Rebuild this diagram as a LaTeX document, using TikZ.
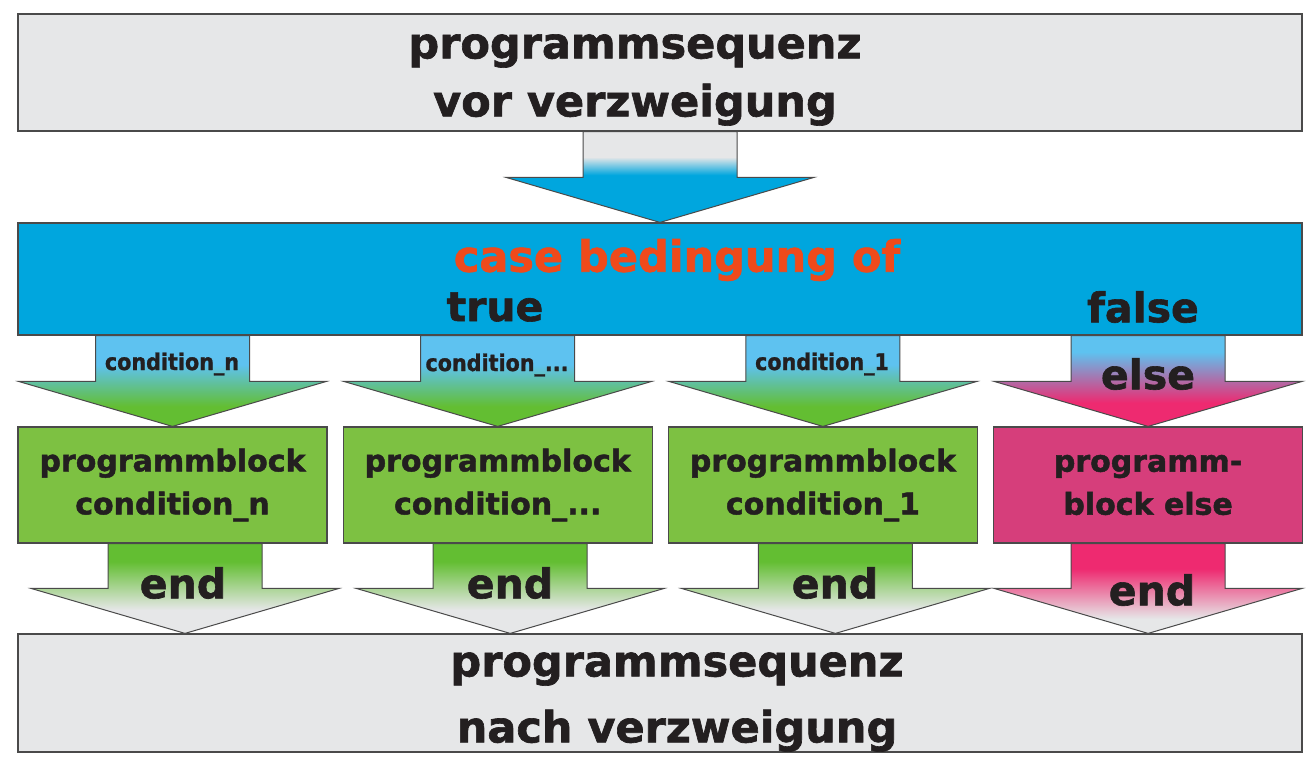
\documentclass[tikz,border=0pt]{standalone}
\usepackage{fontspec}
\setmainfont{DejaVu Sans}[BoldFeatures={FakeBold=1.5}]
\newfontfamily\condfont{DejaVu Sans Condensed}[BoldFeatures={FakeBold=1.2}]
\usetikzlibrary{calc, positioning}
\definecolor{seqgray}{HTML}{E6E7E8}
\definecolor{caseblue}{HTML}{00A6DE}
\definecolor{lightblue}{HTML}{5EC2F0}
\definecolor{arrowgreen}{HTML}{63BE32}
\definecolor{blockgreen}{HTML}{7DC142}
\definecolor{arrowpink}{HTML}{EE2A70}
\definecolor{blockpink}{HTML}{D63E7B}
\definecolor{caseorange}{HTML}{EF4A1B}
\definecolor{textblack}{HTML}{231F20}
\definecolor{edgegray}{HTML}{4A4A4A}
\pgfdeclareverticalshading{graytoblue}{100bp}{color(0bp)=(caseblue); color(51bp)=(caseblue); color(61bp)=(seqgray); color(100bp)=(seqgray)}
\pgfdeclareverticalshading{bluetogreen}{100bp}{color(0bp)=(arrowgreen); color(36bp)=(arrowgreen); color(59bp)=(lightblue); color(100bp)=(lightblue)}
\pgfdeclareverticalshading{bluetopink}{100bp}{color(0bp)=(arrowpink); color(38bp)=(arrowpink); color(66bp)=(lightblue); color(100bp)=(lightblue)}
\pgfdeclareverticalshading{greentogray}{100bp}{color(0bp)=(seqgray); color(38bp)=(seqgray); color(65bp)=(arrowgreen); color(100bp)=(arrowgreen)}
\pgfdeclareverticalshading{pinktogray}{100bp}{color(0bp)=(seqgray); color(33bp)=(seqgray); color(61bp)=(arrowpink); color(100bp)=(arrowpink)}
\tikzset{
	seqbox/.style={rectangle, draw=edgegray, line width=1.2pt, fill=seqgray, minimum width=1284pt},
	casebox/.style={seqbox, fill=caseblue, minimum height=112pt},
	block/.style={rectangle, draw=edgegray, line width=1.2pt, minimum width=309pt, minimum height=116pt, align=center, text=textblack, font=\fontsize{30}{43}\selectfont\bfseries},
	trueblock/.style={block, fill=blockgreen},
	elseblock/.style={block, fill=blockpink},
	bigtext/.style={align=center, text=textblack, font=\fontsize{43}{58}\selectfont\bfseries},
	midtext/.style={text=textblack, font=\fontsize{41}{48}\selectfont\bfseries},
	condtext/.style={text=textblack, font=\fontsize{23}{28}\condfont\bfseries},
}
% block arrow from #1 (middle of the shaft top) to #2 (tip)
\newcommand{\blockarrow}[3]{%
	\shade[shading=#3, draw=edgegray, line width=1pt]
		($(#1)+(-77,0)$) -- ($(#1)+(77,0)$) -- ($(#2)+(77,-45)$) -- ($(#2)+(154,-45)$)
		-- (#2) -- ($(#2)+(-154,-45)$) -- ($(#2)+(-77,-45)$) -- cycle;}

\begin{document}
\begin{tikzpicture}[x=1pt, y=-1pt]
	\useasboundingbox (0,0) rectangle (1314,768);
	% the boxes
	\node[seqbox, minimum height=117pt] (pre) at (660,72.5) {};
	\node[casebox] (case) at (660,279) {};
	\node[trueblock] (blkn) at (172.5,485) {programmblock\\condition\_n};
	\node[trueblock, right=15pt of blkn] (blkdots) {programmblock\\condition\_...};
	\node[trueblock, right=15pt of blkdots] (blkone) {programmblock\\condition\_1};
	\node[elseblock, right=15pt of blkone] (blkelse) {programm-\\block else};
	\node[seqbox, minimum height=118pt] (post) at (660,693) {};
	% the arrows
	\coordinate (endn) at ($(blkn.south)+(12.5,0)$);
	\coordinate (enddots) at ($(blkdots.south)+(12.5,0)$);
	\coordinate (endone) at ($(blkone.south)+(12.5,0)$);
	\blockarrow{pre.south}{case.north}{graytoblue}
	\blockarrow{case.south -| blkn.north}{blkn.north}{bluetogreen}
	\blockarrow{case.south -| blkdots.north}{blkdots.north}{bluetogreen}
	\blockarrow{case.south -| blkone.north}{blkone.north}{bluetogreen}
	\blockarrow{case.south -| blkelse.north}{blkelse.north}{bluetopink}
	\blockarrow{endn}{post.north -| endn}{greentogray}
	\blockarrow{enddots}{post.north -| enddots}{greentogray}
	\blockarrow{endone}{post.north -| endone}{greentogray}
	\blockarrow{blkelse.south}{post.north -| blkelse.south}{pinktogray}
	% the texts
	\node[bigtext] (pretext) at (635,80) {programmsequenz\\vor verzweigung};
	\node[bigtext, text=caseorange] (casetext) at (677,260) {case bedingung of};
	\node[midtext] (truetext) at (495,307) {true};
	\node[midtext] (falsetext) at (1143,307) {false};
	\node[condtext] (condn) at (172,364) {condition\_n};
	\node[condtext] (conddots) at (497,365) {condition\_...};
	\node[condtext] (condone) at (822,364) {condition\_1};
	\node[midtext] (elsetext) at (1148,374) {else};
	\node[midtext] (endntext) at (183,583) {end};
	\node[midtext] (enddotstext) at (510,583) {end};
	\node[midtext] (endonetext) at (835,583) {end};
	\node[midtext] (endelsetext) at (1152,590) {end};
	\node[bigtext, align=center, font=\fontsize{43}{66}\selectfont\bfseries] (posttext) at (677,702) {programmsequenz\\nach verzweigung};
\end{tikzpicture}
\end{document}
